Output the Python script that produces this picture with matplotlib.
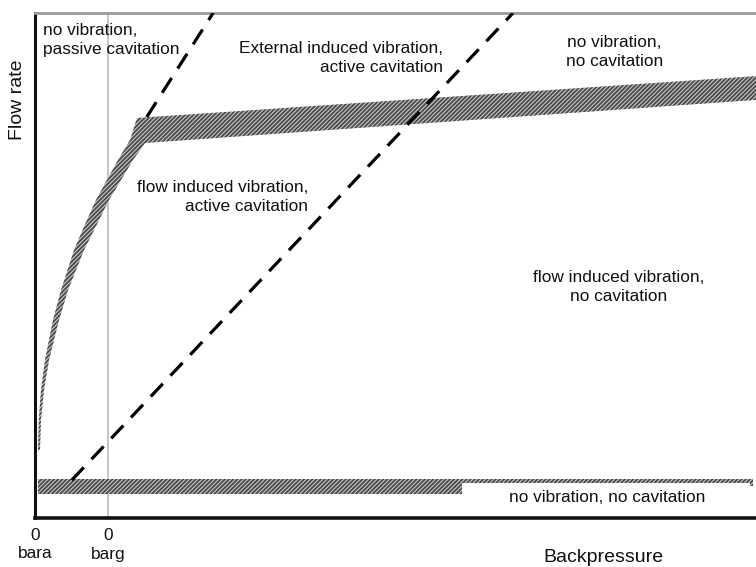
import matplotlib
matplotlib.use("Agg")
import matplotlib.pyplot as plt
from matplotlib.patches import Polygon, Rectangle

plt.rcParams['font.family'] = ['Liberation Sans', 'DejaVu Sans']
plt.rcParams['hatch.linewidth'] = 1.3

# ---- data (arbitrary units) ----
barg_x = 10.1
# curved transition band (sqrt-like), left and right edges
curve_left_x = [0.42, 0.53, 0.83, 1.39, 2.50, 3.61, 5.41, 7.21, 8.46, 9.99, 11.51, 13.18, 14.15]
curve_left_y = [13.47, 19.41, 25.35, 31.29, 39.21, 45.15, 53.07, 59.01, 62.97, 66.93, 70.89, 74.85, 79.21]
curve_right_x = [0.69, 0.83, 1.25, 1.94, 3.33, 4.58, 6.80, 8.88, 10.26, 11.93, 13.59, 15.26]
curve_right_y = [13.47, 19.41, 25.35, 31.29, 39.21, 45.15, 53.07, 59.01, 62.97, 66.93, 70.89, 74.26]
# upper (choked) band
upper_top = ([14.15, 100.0], [79.21, 87.5])
upper_bot = ([15.26, 100.0], [74.26, 82.8])
# lower band
lower_band_y = (4.75, 7.7)
lower_band_x_filled = (0.4, 59.2)
lower_band_x_open = (59.2, 99.6)
# dashed boundaries
dash1 = ([15.5, 24.7], [79.4, 100.0])
dash2 = ([5.1, 66.3], [7.5, 100.0])

labels = [
    ("no vibration,\npassive cavitation", 1.1, 94.6, 'left'),
    ("External induced vibration,\nactive cavitation", 56.6, 91.1, 'right'),
    ("no vibration,\nno cavitation", 80.4, 92.3, 'center'),
    ("flow induced vibration,\nactive cavitation", 37.9, 63.6, 'right'),
    ("flow induced vibration,\nno cavitation", 80.9, 45.7, 'center'),
    ("no vibration, no cavitation", 79.4, 4.0, 'center'),
]

fig = plt.figure(figsize=(7.56, 5.67), dpi=100)
ax = fig.add_axes([35/756, 1-518/567, 1-35/756, (518-13)/567])
ax.set_xlim(0, 100)
ax.set_ylim(0, 100)
ax.set_xticks([])
ax.set_yticks([])
ax.spines['right'].set_visible(False)
ax.spines['top'].set_color('#999999')
ax.spines['top'].set_linewidth(2.0)
ax.spines['left'].set_color('#111111')
ax.spines['left'].set_linewidth(2.2)
ax.spines['bottom'].set_color('#111111')
ax.spines['bottom'].set_linewidth(2.6)

# barg line
ax.axvline(barg_x, color='#bbbbbb', lw=1.2, zorder=1)

band_fc = '#c8c8c8'
hatch_c = '#4a4a4a'
hatch = '////////'
# curve + upper band as one polygon
poly = list(zip(curve_left_x, curve_left_y))
poly += [(upper_top[0][1], upper_top[1][1]), (upper_bot[0][1], upper_bot[1][1])]
poly += list(zip(curve_right_x[::-1], curve_right_y[::-1]))
ax.add_patch(Polygon(poly, closed=True, facecolor=band_fc, edgecolor=hatch_c, lw=0,
                     hatch=hatch, zorder=2))

# lower band
ax.add_patch(Rectangle((lower_band_x_filled[0], lower_band_y[0]),
                       lower_band_x_filled[1]-lower_band_x_filled[0],
                       lower_band_y[1]-lower_band_y[0],
                       facecolor=band_fc, edgecolor=hatch_c, lw=0, hatch=hatch, zorder=2))
ax.add_patch(Rectangle((lower_band_x_open[0], lower_band_y[1]-0.7),
                       lower_band_x_open[1]-lower_band_x_open[0], 0.7,
                       facecolor=band_fc, edgecolor=hatch_c, lw=0, hatch=hatch, zorder=2))
ax.add_patch(Rectangle((lower_band_x_open[1]-0.5, lower_band_y[0]+1.5),
                       0.5, lower_band_y[1]-lower_band_y[0]-1.5,
                       facecolor=band_fc, edgecolor=hatch_c, lw=0, hatch=hatch, zorder=2))

# dashed lines
for d in (dash1, dash2):
    ax.plot(d[0], d[1], color='black', lw=2.3, ls=(0, (5.5, 3.5)), zorder=3,
            dash_capstyle='butt')

for txt, x, y, ha in labels:
    ax.text(x, y, txt, ha=ha, va='center', multialignment=ha, fontsize=12.4,
            color='#111111', linespacing=1.35, zorder=4)

fig.text(17/756, 1-100/567, "Flow rate", rotation=90, ha='center', va='center',
         fontsize=14, color='#111111')
fig.text(603/756, 1-558/567, "Backpressure", ha='center', va='center',
         fontsize=14, color='#111111')
for px, name in ((35, 'bara'), (108, 'barg')):
    fig.text(px/756, 1-535/567, "0", ha='center', va='center', fontsize=12.4, color='#111111')
    fig.text(px/756, 1-554/567, name, ha='center', va='center', fontsize=12.4, color='#111111')

fig.savefig("out.png", dpi=100)
